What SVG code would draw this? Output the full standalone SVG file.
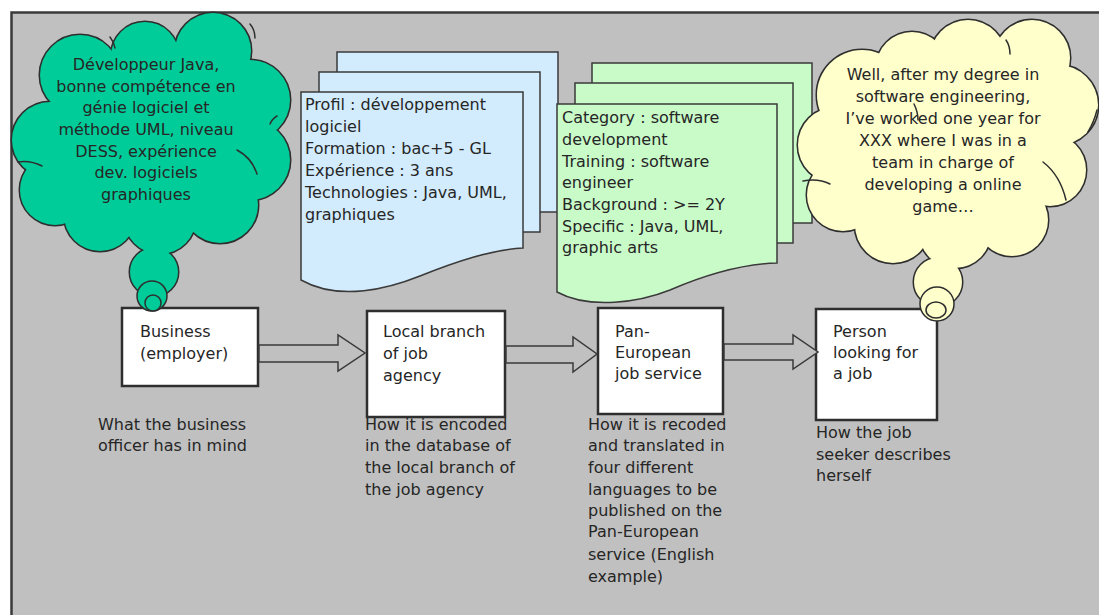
<svg xmlns="http://www.w3.org/2000/svg" xmlns:xlink="http://www.w3.org/1999/xlink" width="1099" height="615" viewBox="0 0 1099 615">
  <style>
    text { font-family: "DejaVu Sans", Verdana, sans-serif; font-size: 16px; fill: #262626; }
    .mid { text-anchor: middle; }
    .page { stroke: #3a3a3a; stroke-width: 1.5; }
    .blue { fill: #d2ecfd; }
    .green { fill: #c9fbc9; }
    .box { fill: #ffffff; stroke: #2e2e2e; stroke-width: 2.5; }
    .arrow { fill: #c0c0c0; stroke: #3a3a3a; stroke-width: 1.5; stroke-linejoin: miter; }
    .inner { fill: none; stroke: #2e2e2e; stroke-width: 1.5; stroke-linecap: round; }
    .bubble { stroke: #2e2e2e; stroke-width: 1.5; }
  </style>
  <defs>
    <!-- cloud outlines built as a union of circles -->
    <g id="cloudGreenShape">
      <circle cx="80" cy="75" r="40"/>
      <circle cx="145" cy="56" r="34"/>
      <circle cx="213" cy="51" r="38"/>
      <circle cx="250" cy="100" r="40"/>
      <circle cx="250" cy="160" r="40"/>
      <circle cx="220" cy="205" r="38"/>
      <circle cx="160" cy="218" r="36"/>
      <circle cx="100" cy="215" r="36"/>
      <circle cx="55" cy="190" r="35"/>
      <circle cx="50" cy="140" r="38"/>
      <circle cx="154" cy="272" r="24"/>
      <ellipse cx="150" cy="135" rx="105" ry="85"/>
    </g>
    <g id="cloudYellowShape">
      <circle cx="862" cy="95" r="45"/>
      <circle cx="912" cy="68" r="36"/>
      <circle cx="968" cy="58" r="38"/>
      <circle cx="1032" cy="58" r="38"/>
      <circle cx="1058" cy="105" r="40"/>
      <circle cx="1050" cy="170" r="36"/>
      <circle cx="1012" cy="220" r="36"/>
      <circle cx="955" cy="232" r="36"/>
      <circle cx="893" cy="225" r="38"/>
      <circle cx="843" cy="195" r="36"/>
      <circle cx="836" cy="145" r="38"/>
      <circle cx="938" cy="282" r="24"/>
      <ellipse cx="950" cy="145" rx="115" ry="85"/>
    </g>
  </defs>

  <!-- background panel -->
  <rect x="0" y="0" width="1099" height="615" fill="#ffffff"/>
  <rect x="11.5" y="12.5" width="1100" height="620" fill="#c0c0c0" stroke="#3a3a3a" stroke-width="2.5"/>

  <!-- local agency record (stack of pages) -->
  <g id="doc-local">
    <rect class="page blue" x="337" y="52" width="221" height="160"/>
    <rect class="page blue" x="319" y="72" width="221" height="160"/>
    <path class="page blue" d="M301,92 H523 V248 C490,250 455,262 420,276 C390,288 340,302 301,280 Z"/>
    <text x="305" y="110">Profil : développement</text>
    <text x="305" y="132">logiciel</text>
    <text x="305" y="154">Formation : bac+5 - GL</text>
    <text x="305" y="176">Expérience : 3 ans</text>
    <text x="305" y="198">Technologies : Java, UML,</text>
    <text x="305" y="220">graphiques</text>
  </g>

  <!-- pan-european record (stack of pages) -->
  <g id="doc-paneuropean">
    <rect class="page green" x="592" y="63" width="220" height="160"/>
    <rect class="page green" x="575" y="83" width="218" height="160"/>
    <path class="page green" d="M557,104 H777 V263 C740,264 705,275 670,290 C640,302 590,310 557,292 Z"/>
    <text x="562" y="123">Category : software</text>
    <text x="562" y="145">development</text>
    <text x="562" y="167">Training : software</text>
    <text x="562" y="188">engineer</text>
    <text x="562" y="210">Background : &gt;= 2Y</text>
    <text x="562" y="232">Specific : Java, UML,</text>
    <text x="562" y="253">graphic arts</text>
  </g>

  <!-- captions under each actor -->
  <g id="captions">
    <text x="98" y="430">What the business</text>
    <text x="98" y="451">officer has in mind</text>
    <text x="365" y="430">How it is encoded</text>
    <text x="365" y="451">in the database of</text>
    <text x="365" y="473">the local branch of</text>
    <text x="365" y="495">the job agency</text>
    <text x="588" y="430">How it is recoded</text>
    <text x="588" y="451">and translated in</text>
    <text x="588" y="473">four different</text>
    <text x="588" y="495">languages to be</text>
    <text x="588" y="516">published on the</text>
    <text x="588" y="537">Pan-European</text>
    <text x="588" y="560">service (English</text>
    <text x="588" y="582">example)</text>
    <text x="816" y="438">How the job</text>
    <text x="816" y="460">seeker describes</text>
    <text x="816" y="481">herself</text>
  </g>

  <!-- actors -->
  <g id="node-business">
    <rect class="box" x="122" y="308" width="136" height="78"/>
    <text x="140" y="337">Business</text>
    <text x="140" y="359">(employer)</text>
  </g>
  <g id="node-local">
    <rect class="box" x="367" y="311" width="138" height="106"/>
    <text x="383" y="337">Local branch</text>
    <text x="383" y="359">of job</text>
    <text x="383" y="381">agency</text>
  </g>
  <g id="node-paneuropean">
    <rect class="box" x="598" y="308" width="125" height="106"/>
    <text x="615" y="337">Pan-</text>
    <text x="615" y="358">European</text>
    <text x="615" y="379">job service</text>
  </g>
  <g id="node-person">
    <rect class="box" x="816" y="309" width="121" height="111"/>
    <text x="833" y="337">Person</text>
    <text x="833" y="358">looking for</text>
    <text x="833" y="379">a job</text>
  </g>

  <!-- block arrows between actors -->
  <g id="connectors">
    <polygon class="arrow" points="259,345 338,345 338,335 365,353 338,371 338,362 259,362"/>
    <polygon class="arrow" points="506,346 573,346 573,337 597,354 573,372 573,363 506,363"/>
    <polygon class="arrow" points="724,344 793,344 793,335 818,352 793,369 793,360 724,360"/>
  </g>

  <!-- employer's thought -->
  <g id="thought-business">
    <use xlink:href="#cloudGreenShape" href="#cloudGreenShape" fill="#00cc99" stroke="#2e2e2e" stroke-width="3"/>
    <use xlink:href="#cloudGreenShape" href="#cloudGreenShape" fill="#00cc99" stroke="none"/>
    <path class="inner" d="M237,150 Q252,158 257,174"/>
    <path class="inner" d="M277,116 Q272,119 270,124"/>
    <path class="inner" d="M18,162 Q30,160 42,166"/>
    <path class="inner" d="M250,24 Q255,30 255,38"/>
    <path class="inner" d="M110,37 Q114,42 115,48"/>
    <circle class="bubble" cx="152" cy="296" r="15" fill="#00cc99"/>
    <circle class="bubble" cx="153" cy="303" r="8" fill="#00cc99"/>
    <text class="mid" x="146" y="70">Développeur Java,</text>
    <text class="mid" x="146" y="92">bonne compétence en</text>
    <text class="mid" x="146" y="113">génie logiciel et</text>
    <text class="mid" x="146" y="135">méthode UML, niveau</text>
    <text class="mid" x="146" y="157">DESS, expérience</text>
    <text class="mid" x="146" y="178">dev. logiciels</text>
    <text class="mid" x="146" y="200">graphiques</text>
  </g>

  <!-- job seeker's thought -->
  <g id="thought-person">
    <use xlink:href="#cloudYellowShape" href="#cloudYellowShape" fill="#ffffcc" stroke="#2e2e2e" stroke-width="3"/>
    <use xlink:href="#cloudYellowShape" href="#cloudYellowShape" fill="#ffffcc" stroke="none"/>
    <path class="inner" d="M1043,162 Q1060,175 1066,200"/>
    <path class="inner" d="M1088,132 Q1094,122 1097,110"/>
    <path class="inner" d="M803,181 Q818,178 830,184"/>
    <path class="inner" d="M1006,40 Q1010,46 1010,54"/>
    <path class="inner" d="M914,104 Q918,112 918,120"/>
    <circle class="bubble" cx="937" cy="304" r="17" fill="#ffffcc"/>
    <ellipse class="bubble" cx="936" cy="310" rx="10" ry="8" fill="#ffffcc"/>
    <text class="mid" x="943" y="80">Well, after my degree in</text>
    <text class="mid" x="943" y="102">software engineering,</text>
    <text class="mid" x="943" y="124">I’ve worked one year for</text>
    <text class="mid" x="943" y="146">XXX where I was in a</text>
    <text class="mid" x="943" y="168">team in charge of</text>
    <text class="mid" x="943" y="190">developing a online</text>
    <text class="mid" x="943" y="212">game…</text>
  </g>
</svg>
